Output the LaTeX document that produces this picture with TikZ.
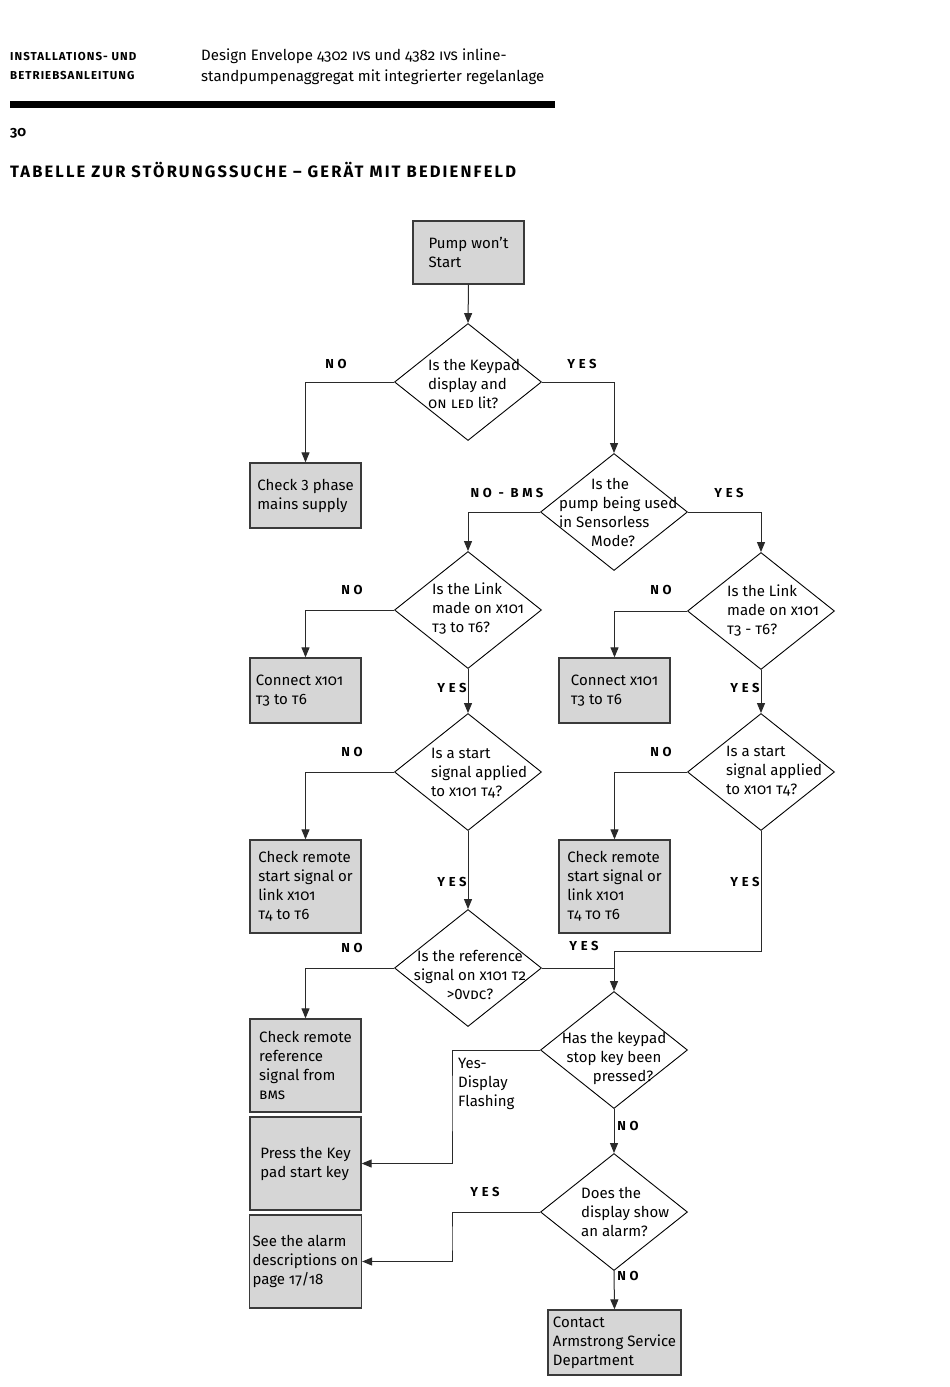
\documentclass[tikz,border=0pt]{standalone}
\usepackage{fontspec}
\setmainfont{Fira Sans}[Numbers=OldStyle]
\usetikzlibrary{shapes.geometric,arrows.meta}
\definecolor{boxfill}{HTML}{D6D6D6}
\definecolor{boxline}{HTML}{3A3A3A}
\definecolor{conline}{HTML}{2A2A2A}
\newcommand{\linnum}[1]{{\addfontfeatures{Numbers=Lining}#1}}
\tikzset{
  txt/.style={font=\fontsize{15}{19}\selectfont, inner sep=0pt},
  box/.style={draw=boxline, line width=1.3pt, fill=boxfill, rectangle, align=left,
    font=\fontsize{15}{19}\selectfont, inner xsep=3pt, inner ysep=0pt},
  dia/.style={draw=black, line width=0.9pt, diamond, minimum width=147pt,
    minimum height=117pt, inner sep=0pt},
  con/.style={draw=conline, line width=1pt},
  arr/.style={con, -{Triangle[length=10pt,width=8pt]}},
  lab/.style={font=\fontsize{13}{15}\selectfont\bfseries\addfontfeatures{LetterSpace=28}, inner sep=0pt},
  head/.style={inner sep=0pt, anchor=base west},
}
\begin{document}
\begin{tikzpicture}[x=1pt,y=-1pt]
\fill[white] (0,0) rectangle (950,1387);
\useasboundingbox (0,0) rectangle (950,1387);

% header
\node[head, font=\fontsize{11.5}{13}\selectfont\bfseries\addfontfeatures{LetterSpace=9}] (hl1) at (10,60) {INSTALLATIONS- UND};
\node[head, font=\fontsize{11.5}{13}\selectfont\bfseries\addfontfeatures{LetterSpace=9}] (hl2) at (10,79) {BETRIEBSANLEITUNG};
\node[head, font=\fontsize{15}{19}\selectfont] (hr1) at (201,60) {Design Envelope 4302 \textsc{ivs} und 4382 \textsc{ivs} inline-};
\node[head, font=\fontsize{15}{19}\selectfont] (hr2) at (201,81) {standpumpenaggregat mit integrierter regelanlage};
\fill[black] (10,101) rectangle (555,108);
\node[head, font=\fontsize{14}{16}\selectfont\bfseries] (pg) at (10,136) {30};
\node[head, font=\fontsize{16.5}{18}\selectfont\bfseries\addfontfeatures{LetterSpace=13}] (title) at (10,177) {TABELLE ZUR STÖRUNGSSUCHE – GERÄT MIT BEDIENFELD};

% boxes
\node[box, minimum width=111pt, minimum height=63pt] (start) at (468.5,252.5) {Pump won’t\\Start};
\node[box, minimum width=111pt, minimum height=65pt] (chk3) at (305.5,495.5) {Check \linnum{3} phase\\mains supply};
\node[box, minimum width=111pt, minimum height=65pt] (con1) at (305.5,690.5) {Connect \textsc{x101}\hspace*{12pt}\\\textsc{t3} to \textsc{t6}};
\node[box, minimum width=111pt, minimum height=65pt] (con2) at (614.5,690.5) {Connect \textsc{x101}\\\textsc{t3} to \textsc{t6}};
\node[box, minimum width=111pt, minimum height=93pt] (chkA) at (305.5,886.5) {Check remote\\start signal or\\link \textsc{x101}\\\textsc{t4} to \textsc{t6}};
\node[box, minimum width=111pt, minimum height=93pt] (chkB) at (614.5,886.5) {Check remote\\start signal or\\link \textsc{x101}\\\textsc{t4 to t6}};
\node[box, minimum width=111pt, minimum height=93pt] (chkR) at (305.5,1065.5) {Check remote\\reference\\signal from\\\textsc{bms}};
\node[box, minimum width=111pt, minimum height=93pt] (press) at (305.5,1163.5) {Press the Key\\pad start key};
\node[box, minimum width=111pt, minimum height=93pt] (alarm) at (305.5,1261.5) {See the alarm\\descriptions on\\page 17/18};
\node[box, minimum width=133pt, minimum height=65pt] (contact) at (614.5,1342.5) {Contact\\Armstrong Service\\Department};

% diamonds
\node[dia] (d1) at (468,382) {};
\node[dia] (d2) at (614,512) {};
\node[dia] (d3) at (468,610) {};
\node[dia] (d4) at (761,611) {};
\node[dia] (d5) at (468,772) {};
\node[dia] (d6) at (761,772) {};
\node[dia] (d7) at (468,968) {};
\node[dia] (d8) at (614,1050) {};
\node[dia] (d9) at (614,1212) {};

\node[txt, align=left, anchor=west] (d1t) at (428,384) {Is the Keypad\\display and\\\textsc{on led} lit?};
\node[txt, align=left, anchor=west] (d2t) at (559,512.5) {\hspace*{32pt}Is the\\pump being used\\in Sensorless\\\hspace*{32pt}Mode?};
\node[txt, align=left, anchor=west] (d3t) at (432,609) {Is the Link\\made on \textsc{x101}\\\textsc{t3} to \textsc{t6}?};
\node[txt, align=left, anchor=west] (d4t) at (727,611) {Is the Link\\made on \textsc{x101}\\\textsc{t3 - t6}?};
\node[txt, align=left, anchor=west] (d5t) at (431,773) {Is a start\\signal applied\\to \textsc{x101 t4}?};
\node[txt, align=left, anchor=west] (d6t) at (726,771) {Is a start\\signal applied\\to \textsc{x101 t4}?};
\node[txt, align=center] (d7t) at (470,975) {Is the reference\\signal on \textsc{x101 t2}\\>\linnum{0}\textsc{vdc}?};
\node[txt, align=center] (d8t) at (614,1058) {Has the keypad\\stop key been\\\hspace*{18pt}pressed?};
\node[txt, align=left, anchor=west] (d9t) at (581,1212) {Does the\\display show\\an alarm?};

% connectors
\draw[arr] (start.south) -- (d1.north);
\draw[arr] (d1.west) -| (chk3.north);
\draw[arr] (d1.east) -| (d2.north);
\draw[arr] (d2.west) -| (d3.north);
\draw[arr] (d2.east) -| (d4.north);
\draw[arr] (d3.west) -| (con1.north);
\draw[arr] (d4.west) -| (con2.north);
\draw[arr] (d3.south) -- (d5.north);
\draw[arr] (d4.south) -- (d6.north);
\draw[arr] (d5.west) -| (chkA.north);
\draw[arr] (d6.west) -| (chkB.north);
\draw[arr] (d5.south) -- (d7.north);
\coordinate (j1) at (614,951);
\draw[arr] (d6.south) |- (j1) -- (d8.north);
\draw[con] (d7.east) -- (d7.east -| d8.north);
\draw[arr] (d7.west) -| (chkR.north);
\coordinate (k1) at (452,1100);
\draw[arr] (d8.west) -| (k1) |- (press.east);
\draw[arr] (d8.south) -- (d9.north);
\coordinate (k2) at (452,1240);
\draw[arr] (d9.west) -| (k2) |- (alarm.east);
\draw[arr] (d9.south) -- (contact.north);

% labels
\node[lab] (l1no) at (336,364) {NO};
\node[lab] (l1yes) at (582,364) {YES};
\node[lab] (l2no) at (507,493) {NO - BMS};
\node[lab] (l2yes) at (729,493) {YES};
\node[lab] (l3no) at (352,590) {NO};
\node[lab] (l3yes) at (452,688) {YES};
\node[lab] (l4no) at (661,590) {NO};
\node[lab] (l4yes) at (745,688) {YES};
\node[lab] (l5no) at (352,752) {NO};
\node[lab] (l5yes) at (452,882) {YES};
\node[lab] (l6no) at (661,752) {NO};
\node[lab] (l6yes) at (745,882) {YES};
\node[lab] (l7no) at (352,948) {NO};
\node[lab] (l7yes) at (584,946) {YES};
\node[txt, align=left, anchor=west] (l8yes) at (458,1084) {Yes-\\Display\\Flashing};
\node[lab] (l8no) at (628,1126) {NO};
\node[lab] (l9yes) at (485,1192) {YES};
\node[lab] (l9no) at (628,1276) {NO};
\end{tikzpicture}
\end{document}
